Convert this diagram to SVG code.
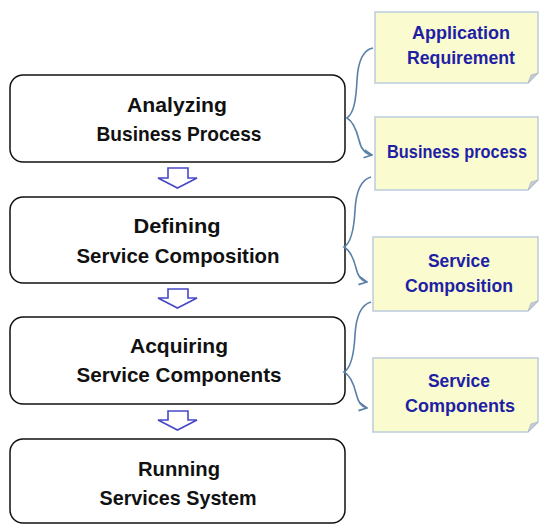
<svg xmlns="http://www.w3.org/2000/svg" width="540" height="525" viewBox="0 0 540 525">
<style>
.box{fill:#fff;stroke:#111;stroke-width:1.5}
.bt{font-family:"Liberation Sans",Arial,sans-serif;font-size:21px;font-weight:bold;fill:#111;text-anchor:middle}
.note{fill:#fbfbd0;stroke:#bccbdc;stroke-width:1.5}
.fold{fill:#c6ccd4;stroke:#aeb8c4;stroke-width:0.8}
.nt{font-family:"Liberation Sans",Arial,sans-serif;font-size:18px;font-weight:bold;fill:#1f1fa5;text-anchor:middle}
.brace{fill:none;stroke:#5a80a8;stroke-width:1.6}
.harrow{fill:#fff;stroke:#4848c8;stroke-width:1.6;stroke-linejoin:miter}
</style>
<defs>
<marker id="chev" viewBox="0 0 10 10" refX="9" refY="5" markerWidth="10" markerHeight="10" markerUnits="userSpaceOnUse" orient="auto">
<path d="M1,1 L9,5 L1,9" fill="none" stroke="#5a80a8" stroke-width="1.6"/>
</marker>
</defs>

<g id="box1">
<rect class="box" x="10" y="75" width="335" height="87" rx="13"/>
<text class="bt" x="177" y="112" textLength="100" lengthAdjust="spacingAndGlyphs">Analyzing</text>
<text class="bt" x="179" y="141" textLength="165" lengthAdjust="spacingAndGlyphs">Business Process</text>
</g>
<g id="box2">
<rect class="box" x="10" y="197" width="335" height="86" rx="13"/>
<text class="bt" x="177" y="233" textLength="87" lengthAdjust="spacingAndGlyphs">Defining</text>
<text class="bt" x="178" y="263" textLength="203" lengthAdjust="spacingAndGlyphs">Service Composition</text>
</g>
<g id="box3">
<rect class="box" x="10" y="317" width="335" height="87" rx="13"/>
<text class="bt" x="179" y="353" textLength="98" lengthAdjust="spacingAndGlyphs">Acquiring</text>
<text class="bt" x="179" y="382" textLength="205" lengthAdjust="spacingAndGlyphs">Service Components</text>
</g>
<g id="box4">
<rect class="box" x="10" y="439" width="335" height="84" rx="13"/>
<text class="bt" x="179" y="476" textLength="82" lengthAdjust="spacingAndGlyphs">Running</text>
<text class="bt" x="178" y="505" textLength="157" lengthAdjust="spacingAndGlyphs">Services System</text>
</g>

<g id="note1">
<path class="note" d="M375,12 H538 V73 L528,83 H375 Z"/>
<path class="fold" d="M528,83 L538,73 L531,75 Z"/>
<text class="nt" x="461" y="39" textLength="98" lengthAdjust="spacingAndGlyphs">Application</text>
<text class="nt" x="461" y="64" textLength="108" lengthAdjust="spacingAndGlyphs">Requirement</text>
</g>
<g id="note2">
<path class="note" d="M375,117 H538 V180 L528,190 H375 Z"/>
<path class="fold" d="M528,190 L538,180 L531,182 Z"/>
<text class="nt" x="457" y="158" textLength="140" lengthAdjust="spacingAndGlyphs">Business process</text>
</g>
<g id="note3">
<path class="note" d="M373,237 H538 V301 L528,311 H373 Z"/>
<path class="fold" d="M528,311 L538,301 L531,303 Z"/>
<text class="nt" x="459" y="267" textLength="62" lengthAdjust="spacingAndGlyphs">Service</text>
<text class="nt" x="459" y="292" textLength="108" lengthAdjust="spacingAndGlyphs">Composition</text>
</g>
<g id="note4">
<path class="note" d="M373,358 H538 V422 L528,432 H373 Z"/>
<path class="fold" d="M528,432 L538,422 L531,424 Z"/>
<text class="nt" x="459" y="387" textLength="62" lengthAdjust="spacingAndGlyphs">Service</text>
<text class="nt" x="460" y="412" textLength="110" lengthAdjust="spacingAndGlyphs">Components</text>
</g>

<g id="connectors">
<path class="harrow" d="M168,168 H188 V178 H197 L177.5,188 L158,178 H168 Z"/>
<path class="harrow" d="M168,289 H188 V298 H197 L177.5,308 L158,298 H168 Z"/>
<path class="harrow" d="M168,411 H188 V420 H197 L177.5,430 L158,420 H168 Z"/>
<path class="brace" marker-end="url(#chev)" d="M373,48 C362,50 358,62 357,80 C356,100 354,113 347,118 C354,122 357,132 359,140 C361,149 365,154 372,155"/>
<path class="brace" marker-end="url(#chev)" d="M371,177 C360,180 356,192 355,210 C354,230 351,243 344,247 C351,251 354,260 356,268 C358,277 361,281 367,282"/>
<path class="brace" marker-end="url(#chev)" d="M371,302 C360,305 356,317 355,335 C354,355 351,368 344,372 C351,376 354,385 356,393 C358,402 361,407 367,408"/>
</g>
</svg>
